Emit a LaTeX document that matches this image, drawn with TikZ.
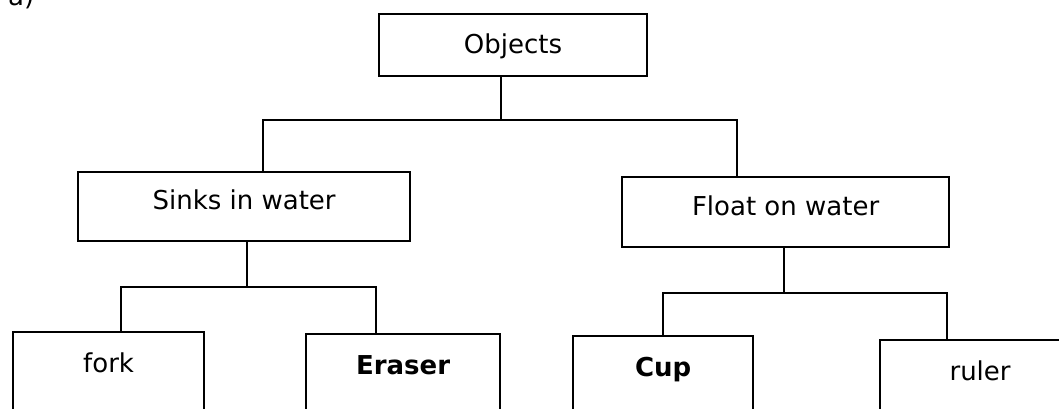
\documentclass[tikz,border=0pt]{standalone}
\usepackage{fontspec}
\setmainfont{DejaVu Sans}

\begin{document}
\begin{tikzpicture}[x=1pt, y=-1pt,
    box/.style={draw, line width=2.2pt, inner sep=0pt, anchor=north west,
      font=\fontsize{26}{30}\selectfont},
    leaf/.style={box, text height=40pt, text depth=38pt},
    link/.style={line width=2.2pt}]
  \useasboundingbox (0, 0) rectangle (1059, 408);

  \node[anchor=base west, inner sep=0pt, font=\fontsize{26}{30}\selectfont] (tag) at (8, 5) {a)};

  \node[box, minimum width=268pt, text height=39pt, text depth=23pt] (obj) at (378, 13) {Objects};
  \node[box, minimum width=332pt, text height=37pt, text depth=32pt] (sinks) at (77, 171) {Sinks in water};
  \node[box, minimum width=327pt, text height=38pt, text depth=32pt] (float) at (621, 176) {Float on water};
  \node[leaf, minimum width=191pt] (fork) at (12, 331) {fork};
  \node[leaf, minimum width=194pt] (eraser) at (305, 333) {\bfseries Eraser};
  \node[leaf, minimum width=180pt] (cup) at (572, 335) {\bfseries Cup};
  \node[leaf, minimum width=200pt] (ruler) at (879, 339) {ruler};

  \coordinate (objbus) at (501, 120);
  \coordinate (objl) at (263, 120);
  \coordinate (objr) at (737, 120);
  \coordinate (sinkbus) at (247, 287);
  \coordinate (sinkl) at (121, 287);
  \coordinate (sinkr) at (376, 287);
  \coordinate (floatbus) at (784, 293);
  \coordinate (floatl) at (663, 293);
  \coordinate (floatr) at (947, 293);

  \draw[link] (obj.south -| objbus) -- (objbus);
  \draw[link] (sinks.north -| objl) -- (objl) -- (objr) -- (float.north -| objr);
  \draw[link] (sinks.south -| sinkbus) -- (sinkbus);
  \draw[link] (fork.north -| sinkl) -- (sinkl) -- (sinkr) -- (eraser.north -| sinkr);
  \draw[link] (float.south -| floatbus) -- (floatbus);
  \draw[link] (cup.north -| floatl) -- (floatl) -- (floatr) -- (ruler.north -| floatr);
\end{tikzpicture}
\end{document}
